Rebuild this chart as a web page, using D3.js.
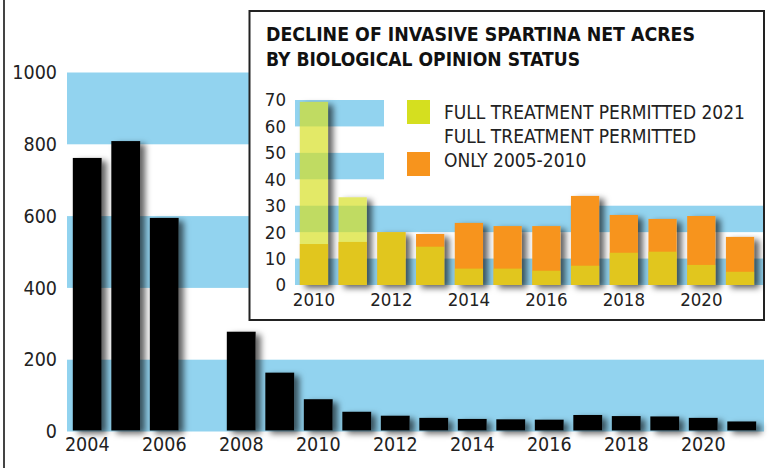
<!DOCTYPE html>
<html>
<head>
<meta charset="utf-8">
<script src="https://cdn.jsdelivr.net/npm/d3@7"></script>
<style>
  html, body { margin: 0; padding: 0; background: #fff; }
  svg { display: block; }
</style>
</head>
<body>
<div id="chart"></div>
<script>
// main chart: net acres per year (2007 has no bar)
const mainYears = [2004, 2005, 2006, 2007, 2008, 2009, 2010, 2011, 2012, 2013, 2014, 2015, 2016, 2017, 2018, 2019, 2020, 2021];
const mainAcres = [762, 809, 595, null, 278, 164, 90, 55, 44, 38, 35, 34, 33, 46, 43, 42, 38, 28];
const mainTicks = [0, 200, 400, 600, 800, 1000];
const mainYearLabels = [2004, 2006, 2008, 2010, 2012, 2014, 2016, 2018, 2020];
const mainBands = [[0, 200], [400, 600], [800, 1000]];

// inset: by biological opinion status
const insetYears = [2010, 2011, 2012, 2013, 2014, 2015, 2016, 2017, 2018, 2019, 2020, 2021];
const permitted2021 = [69.3, 33.2, 20, 14.5, 6.2, 6.2, 5.4, 7.3, 12.2, 12.6, 7.6, 5];
const permittedOnly2005to2010 = [15.5, 16.3, 20, 19.3, 23.5, 22.3, 22.3, 33.7, 26.5, 25, 26.1, 18.2];
const insetTicks = [0, 10, 20, 30, 40, 50, 60, 70];
const insetYearLabels = [2010, 2012, 2014, 2016, 2018, 2020];
const insetBandsFull = [[0, 10], [20, 30]];
const insetBandsShort = [[40, 50], [60, 70]];
const titleLines = ['DECLINE OF INVASIVE SPARTINA NET ACRES', 'BY BIOLOGICAL OPINION STATUS'];
const legendItems = [
  { label: ['FULL TREATMENT PERMITTED 2021'], color: '#d5df1f' },
  { label: ['FULL TREATMENT PERMITTED', 'ONLY 2005-2010'], color: '#f7941d' }
];

const width = 778;
const height = 468;
const blue = '#92d3ef';
const font = '"DejaVu Sans Condensed", "DejaVu Sans", sans-serif';

const svg = d3.select('#chart')
  .append('svg')
  .attr('width', width)
  .attr('height', height);

svg.append('rect').attr('width', width).attr('height', height).attr('fill', '#fff');

// Shadow-only filter: blurred, offset copy of the shape, minus the shape itself
const defs = svg.append('defs');
const shadow = defs.append('filter')
  .attr('id', 'shadow')
  .attr('x', '-40%').attr('y', '-30%')
  .attr('width', '200%').attr('height', '160%');
shadow.append('feGaussianBlur').attr('in', 'SourceAlpha').attr('stdDeviation', 3).attr('result', 'blur');
shadow.append('feOffset').attr('in', 'blur').attr('dx', 5).attr('dy', 3).attr('result', 'off');
shadow.append('feFlood').attr('flood-color', '#000').attr('flood-opacity', 0.62).attr('result', 'col');
shadow.append('feComposite').attr('in', 'col').attr('in2', 'off').attr('operator', 'in').attr('result', 'sh');
shadow.append('feComposite').attr('in', 'sh').attr('in2', 'SourceAlpha').attr('operator', 'out');

// left frame line
svg.append('line')
  .attr('x1', 4).attr('x2', 4)
  .attr('y1', 0).attr('y2', height)
  .attr('stroke', '#444')
  .attr('stroke-width', 2);

// ---------- main chart ----------
const x = d3.scaleBand()
  .domain(mainYears)
  .range([68, 761])
  .paddingInner(0.25)
  .paddingOuter(0.125);

const y = d3.scaleLinear()
  .domain([0, 1000])
  .range([431.5, 72.5]);

const main = svg.append('g');

main.append('g')
  .selectAll('rect')
  .data(mainBands)
  .join('rect')
  .attr('x', 67)
  .attr('width', 764 - 67)
  .attr('y', d => y(d[1]))
  .attr('height', d => y(d[0]) - y(d[1]))
  .attr('fill', blue);

const mainRows = mainYears.map((yr, i) => ({ yr, v: mainAcres[i] })).filter(d => d.v !== null);

main.append('g')
  .attr('filter', 'url(#shadow)')
  .selectAll('rect')
  .data(mainRows)
  .join('rect')
  .attr('x', d => x(d.yr))
  .attr('width', x.bandwidth())
  .attr('y', d => y(d.v))
  .attr('height', d => y(0) - 1 - y(d.v))
  .attr('fill', '#000');

main.append('g')
  .selectAll('rect')
  .data(mainRows)
  .join('rect')
  .attr('x', d => x(d.yr))
  .attr('width', x.bandwidth())
  .attr('y', d => y(d.v))
  .attr('height', d => y(0) - 1 - y(d.v))
  .attr('fill', '#000');

const yAxis = d3.axisLeft(y).tickValues(mainTicks).tickFormat(d3.format('d')).tickSize(0).tickPadding(0);
main.append('g')
  .attr('transform', 'translate(57,0)')
  .call(yAxis)
  .call(g => g.select('.domain').remove())
  .selectAll('text')
  .attr('font-family', font)
  .attr('font-size', 19.5)
  .attr('fill', '#222');

const xAxis = d3.axisBottom(x).tickValues(mainYearLabels).tickFormat(d3.format('d')).tickSize(0).tickPadding(0);
main.append('g')
  .attr('transform', 'translate(0,437)')
  .call(xAxis)
  .call(g => g.select('.domain').remove())
  .selectAll('text')
  .attr('dy', '0.71em')
  .attr('font-family', font)
  .attr('font-size', 19.5)
  .attr('fill', '#222');

// ---------- inset ----------
const inset = svg.append('g');

inset.append('rect')
  .attr('x', 249.5).attr('y', 11)
  .attr('width', 764 - 249.5).attr('height', 320 - 11)
  .attr('fill', '#fff')
  .attr('stroke', '#222')
  .attr('stroke-width', 2);

const ix = d3.scaleBand()
  .domain(insetYears)
  .range([294.6, 759.4])
  .paddingInner(0.27)
  .paddingOuter(0.135);

const iy = d3.scaleLinear()
  .domain([0, 70])
  .range([285, 100]);

inset.append('g')
  .selectAll('rect')
  .data(insetBandsFull)
  .join('rect')
  .attr('x', 295)
  .attr('width', 763 - 295)
  .attr('y', d => iy(d[1]))
  .attr('height', d => iy(d[0]) - iy(d[1]))
  .attr('fill', blue);

inset.append('g')
  .selectAll('rect')
  .data(insetBandsShort)
  .join('rect')
  .attr('x', 295)
  .attr('width', 384 - 295)
  .attr('y', d => iy(d[1]))
  .attr('height', d => iy(d[0]) - iy(d[1]))
  .attr('fill', blue);

const insetRows = insetYears.map((yr, i) => ({
  yr,
  full: permitted2021[i],
  only: permittedOnly2005to2010[i]
}));

// shadows follow the taller of the two bars
inset.append('g')
  .attr('filter', 'url(#shadow)')
  .selectAll('rect')
  .data(insetRows)
  .join('rect')
  .attr('x', d => ix(d.yr))
  .attr('width', ix.bandwidth())
  .attr('y', d => iy(Math.max(d.full, d.only)))
  .attr('height', d => iy(0) - iy(Math.max(d.full, d.only)))
  .attr('fill', '#000');

inset.append('g')
  .selectAll('rect')
  .data(insetRows)
  .join('rect')
  .attr('x', d => ix(d.yr))
  .attr('width', ix.bandwidth())
  .attr('y', d => iy(d.only))
  .attr('height', d => iy(0) - iy(d.only))
  .attr('fill', '#f7941d');

inset.append('g')
  .selectAll('rect')
  .data(insetRows)
  .join('rect')
  .attr('x', d => ix(d.yr))
  .attr('width', ix.bandwidth())
  .attr('y', d => iy(d.full))
  .attr('height', d => iy(0) - iy(d.full))
  .attr('fill', '#d5df1f')
  .attr('fill-opacity', 0.68);

inset.append('g')
  .attr('transform', 'translate(286,0)')
  .call(d3.axisLeft(iy).tickValues(insetTicks).tickSize(0).tickPadding(0))
  .call(g => g.select('.domain').remove())
  .selectAll('text')
  .attr('font-family', font)
  .attr('font-size', 18.5)
  .attr('fill', '#222');

inset.append('g')
  .attr('transform', 'translate(0,293)')
  .call(d3.axisBottom(ix).tickValues(insetYearLabels).tickFormat(d3.format('d')).tickSize(0).tickPadding(0))
  .call(g => g.select('.domain').remove())
  .selectAll('text')
  .attr('dy', '0.71em')
  .attr('font-family', font)
  .attr('font-size', 18.5)
  .attr('fill', '#222');

// title
inset.append('g')
  .selectAll('text')
  .data(titleLines)
  .join('text')
  .attr('x', 266)
  .attr('y', (d, i) => 41 + i * 24.7)
  .attr('font-family', font)
  .attr('font-weight', 'bold')
  .attr('font-size', 19)
  .attr('fill', '#111')
  .attr('textLength', (d, i) => i === 0 ? 429 : 314)
  .attr('lengthAdjust', 'spacingAndGlyphs')
  .text(d => d);

// legend
const legend = inset.append('g');
legendItems.forEach((item, i) => {
  legend.append('rect')
    .attr('x', 407)
    .attr('y', 100 + i * 52)
    .attr('width', 23)
    .attr('height', 24)
    .attr('fill', item.color);
});
const legendLines = legendItems.flatMap(d => d.label);
legend.selectAll('text')
  .data(legendLines)
  .join('text')
  .attr('x', 444)
  .attr('y', (d, i) => 119 + i * 24)
  .attr('font-family', font)
  .attr('font-size', 19)
  .attr('fill', '#222')
  .text(d => d);
</script>
</body>
</html>
